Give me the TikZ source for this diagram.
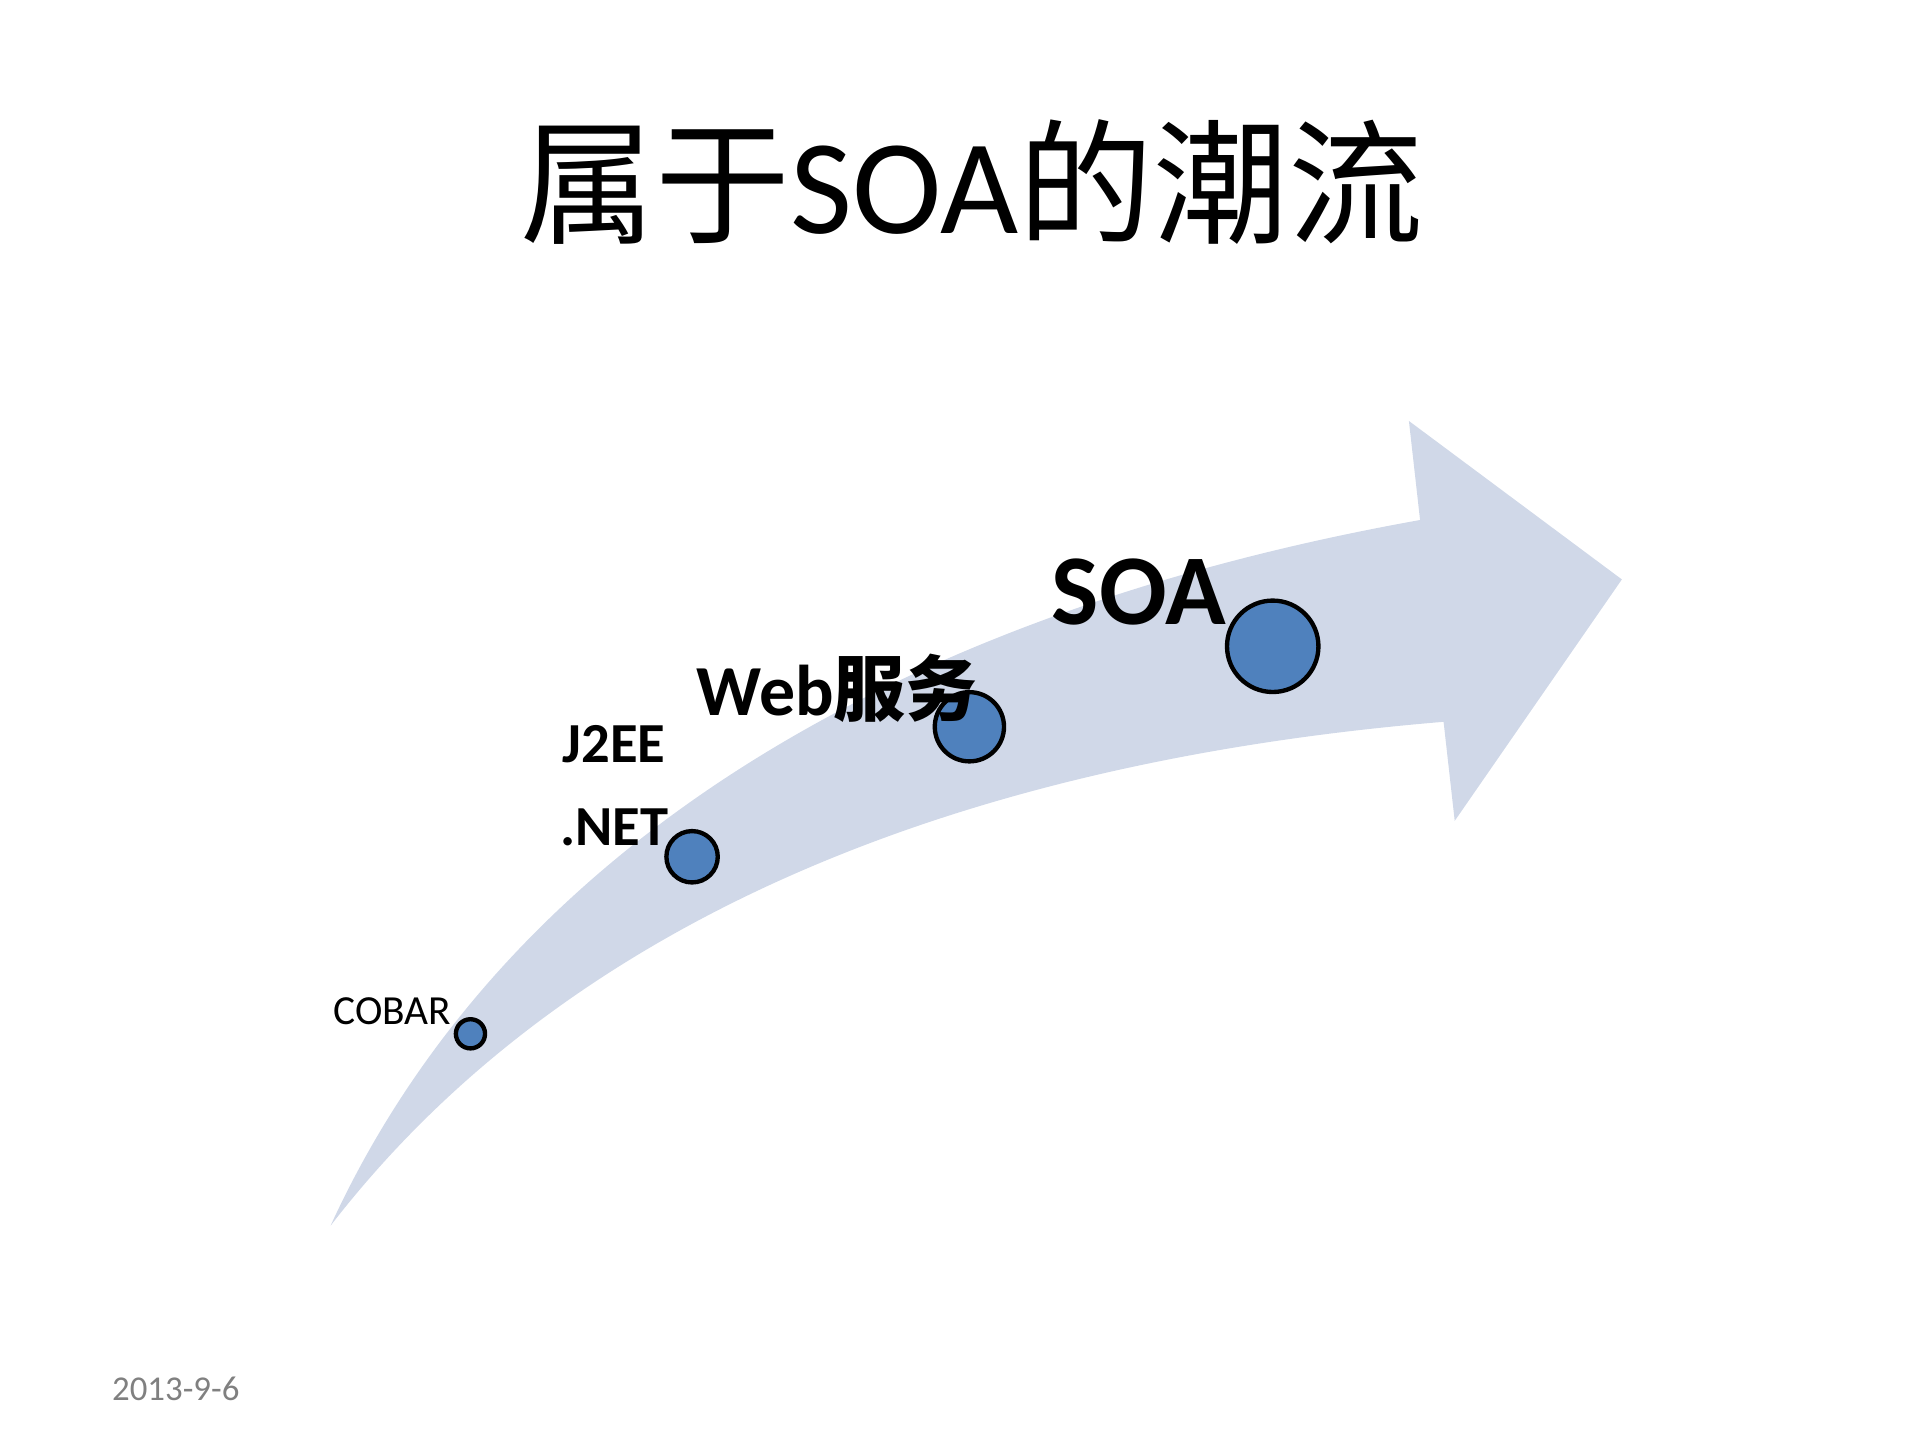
\documentclass[tikz,border=0pt]{standalone}
\usepackage{fontspec}
\setmainfont{Carlito}
\newfontfamily\cjk{Noto Sans CJK SC}
\definecolor{arrowc}{RGB}{208,216,232}
\definecolor{dotc}{RGB}{79,129,189}
\begin{document}
\begin{tikzpicture}[x=0.01cm,y=-0.01cm,
  dot/.style={circle,draw=black,line width=1pt,fill=dotc,inner sep=0pt},
  lbl/.style={inner sep=0pt,font=\bfseries}]
\useasboundingbox (0,0) rectangle (1550,1162);
\fill[arrowc] (267,990) .. controls (400,700) and (700,500) .. (1147,420)
  -- (1138,340) -- (1310,468) -- (1175,663) -- (1166,583)
  .. controls (780,615) and (460,740) .. (267,990) -- cycle;
\node[inner sep=0pt] (title) at (785,147) {\fontsize{31}{36}\selectfont\cjk 属于\textnormal{\fontspec{Carlito}SOA}的潮流};
\node[dot,minimum size=24\pgflinewidth*0+6.7pt] (c1) at (380,835) {};
\node[dot,minimum size=11.8pt] (c2) at (559,692) {};
\node[dot,minimum size=15.9pt] (c3) at (783,587) {};
\node[dot,minimum size=21pt] (c4) at (1028,522) {};
\node[inner sep=0pt,font=\fontsize{9.5}{11}\selectfont] (l1) at (317,817) {COBAR};
\node[lbl,font=\bfseries\fontsize{13}{15}\selectfont] (l2) at (496,601) {J2EE};
\node[lbl,font=\bfseries\fontsize{13}{15}\selectfont] (l3) at (496,668) {.NET};
\node[lbl,font=\bfseries\fontsize{16.5}{19}\selectfont] (l4) at (676,556) {Web{\cjk 服务}};
\node[lbl,font=\bfseries\fontsize{23}{26}\selectfont] (l5) at (920,478) {SOA};
\node[inner sep=0pt,text=gray,font=\fontsize{8}{10}\selectfont] (d) at (142,1122) {2013-9-6};
\end{tikzpicture}
\end{document}
